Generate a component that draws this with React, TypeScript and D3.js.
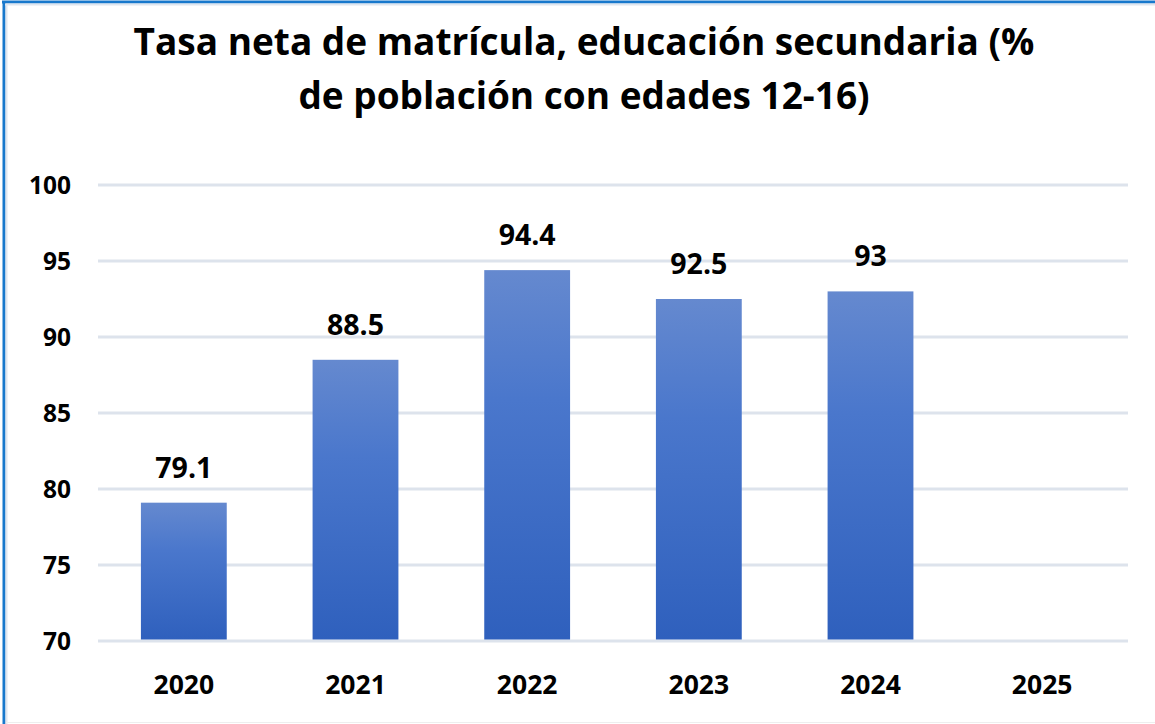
import React from "react";
import * as d3 from "d3";

const categories = ["2020", "2021", "2022", "2023", "2024", "2025"];
const values: (number | null)[] = [79.1, 88.5, 94.4, 92.5, 93, null];
const yTicks = [70, 75, 80, 85, 90, 95, 100];
const titleLines = ["Tasa neta de matrícula, educación secundaria (%", "de población con edades 12-16)"];

const W = 1155, H = 724;
const FONT = "'Open Sans', sans-serif";

export default function App() {
  const x = d3.scaleBand().domain(categories).range([98, 1128]).paddingInner(0.5).paddingOuter(0.25);
  const y = d3.scaleLinear().domain([70, 100]).range([641, 185]);
  return (
    <svg width={W} height={H} style={{ position: "absolute", left: 0, top: 0, background: "#fff" }} fontFamily={FONT}>
      <defs>
        <linearGradient id="barGrad" x1="0" y1="0" x2="0" y2="1">
          <stop offset="0%" stopColor="#6589cf" />
          <stop offset="35%" stopColor="#4a77cc" />
          <stop offset="100%" stopColor="#2f60bd" />
        </linearGradient>
      </defs>
      <rect x={0} y={0} width={W} height={H} fill="#fff" />
      <line x1={4} y1={1} x2={4} y2={H} stroke="#1878cc" strokeWidth={3} />
      <line x1={2} y1={2} x2={W} y2={2} stroke="#1878cc" strokeWidth={3} />
      <line x1={6.5} y1={4} x2={6.5} y2={H} stroke="#dfe6ef" strokeWidth={2} />
      <line x1={5} y1={4.5} x2={W} y2={4.5} stroke="#dfe6ef" strokeWidth={2} />
      <line x1={6} y1={722.5} x2={W} y2={722.5} stroke="#eeeeee" strokeWidth={1} />
      {titleLines.map((t, i) => (
        <text key={i} x={584} y={55 + i * 54} textAnchor="middle" fontSize={37} fontWeight="bold" fill="#000">{t}</text>
      ))}
      {yTicks.map((t) => (
        <g key={t}>
          <line x1={98} x2={1128} y1={y(t)} y2={y(t)} stroke="#dde3ec" strokeWidth={3} />
          <text x={71} y={y(t) + 9} textAnchor="end" fontSize={24.5} fontWeight="bold" fill="#000">{t}</text>
        </g>
      ))}
      {categories.map((c, i) => {
        const v = values[i];
        const bx = x(c)!;
        return (
          <g key={c}>
            {v != null && (
              <>
                <rect x={bx} y={y(v)} width={x.bandwidth()} height={y(70) - y(v) - 1.5} fill="url(#barGrad)" />
                <text x={bx + x.bandwidth() / 2} y={y(v) - 25} textAnchor="middle" fontSize={28.5} fontWeight="bold" fill="#000">{String(v)}</text>
              </>
            )}
            <text x={bx + x.bandwidth() / 2} y={694} textAnchor="middle" fontSize={26.5} fontWeight="bold" fill="#000">{c}</text>
          </g>
        );
      })}
    </svg>
  );
}
